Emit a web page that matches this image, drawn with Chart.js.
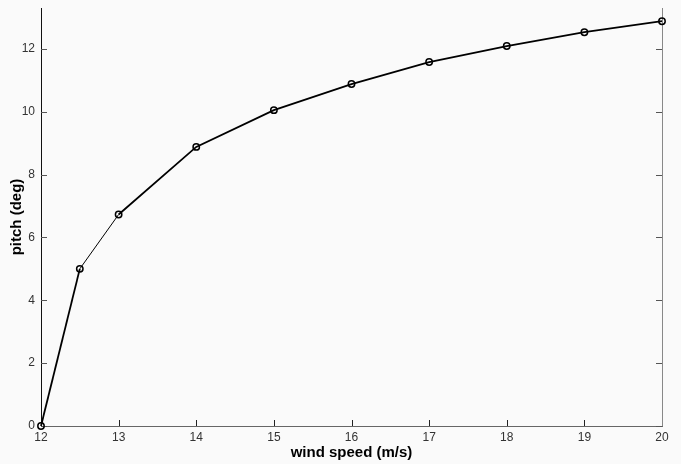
<!DOCTYPE html>
<html>
<head>
<meta charset="utf-8">
<script src="https://cdn.jsdelivr.net/npm/chart.js@4"></script>
<style>
  html, body { margin: 0; padding: 0; background: #fafafa; }
  #wrap { width: 681px; height: 464px; }
</style>
</head>
<body>
<div id="wrap"><canvas id="myChart" width="681" height="464"></canvas></div>
<script>
// wind speed (m/s) vs pitch (deg)
const windSpeed = [12, 12.5, 13, 14, 15, 16, 17, 18, 19, 20];
const pitch = [0, 5.0, 6.73, 8.88, 10.05, 10.88, 11.58, 12.09, 12.53, 12.88];
const xTicks = [12, 13, 14, 15, 16, 17, 18, 19, 20];
const yTicks = [0, 2, 4, 6, 8, 10, 12];

// matlab style: tick marks pointing into the plot, plus the right border
const inwardTicks = {
  id: 'inwardTicks',
  beforeDatasetsDraw(chart) {
    const { ctx, chartArea, scales } = chart;
    ctx.save();
    ctx.lineWidth = 1;
    ctx.strokeStyle = '#222';
    xTicks.forEach(v => {
      const x = Math.round(scales.x.getPixelForValue(v)) + 0.5;
      ctx.beginPath();
      ctx.moveTo(x, chartArea.bottom);
      ctx.lineTo(x, chartArea.bottom - 6);
      ctx.stroke();
    });
    ctx.strokeStyle = '#555';
    yTicks.forEach(v => {
      const y = Math.round(scales.y.getPixelForValue(v)) + 0.5;
      ctx.beginPath();
      ctx.moveTo(chartArea.left, y);
      ctx.lineTo(chartArea.left + 6, y);
      ctx.moveTo(chartArea.right, y);
      ctx.lineTo(chartArea.right - 6, y);
      ctx.stroke();
    });
    ctx.strokeStyle = '#888';
    ctx.beginPath();
    ctx.moveTo(chartArea.right + 0.5, chartArea.top);
    ctx.lineTo(chartArea.right + 0.5, chartArea.bottom);
    ctx.stroke();
    ctx.restore();
  }
};

const bgPlugin = {
  id: 'bg',
  beforeDraw(chart) {
    const ctx = chart.ctx;
    ctx.save();
    ctx.fillStyle = '#fafafa';
    ctx.fillRect(0, 0, chart.width, chart.height);
    ctx.restore();
  }
};

const ctx = document.getElementById('myChart').getContext('2d');
const myChart = new Chart(ctx, {
  type: 'line',
  data: {
    datasets: [{
      label: 'pitch',
      data: windSpeed.map((w, i) => ({ x: w, y: pitch[i] })),
      fill: false,
      clip: false,
      borderColor: '#000',
      backgroundColor: 'rgba(0,0,0,0)',
      borderWidth: 1.8,
      pointRadius: 3.2,
      pointBorderWidth: 1.5,
      pointBorderColor: '#000',
      pointBackgroundColor: 'rgba(0,0,0,0)',
      tension: 0,
      segment: {
        borderWidth: c => (c.p0DataIndex === 1 ? 1 : 1.8)
      }
    }]
  },
  options: {
    responsive: false,
    animation: false,
    layout: { padding: { top: 8, right: 19, left: 0, bottom: 0 } },
    scales: {
      x: {
        type: 'linear',
        min: 12,
        max: 20,
        afterBuildTicks: s => { s.ticks = xTicks.map(v => ({ value: v })); },
        afterFit: s => { s.height = 38; s.paddingLeft = 0; s.paddingRight = 0; },
        grid: { display: false, drawTicks: false },
        border: { display: true, color: '#666', width: 1 },
        ticks: {
          padding: 4,
          maxRotation: 0,
          font: { family: 'Arial, "Liberation Sans"', size: 12 },
          color: '#333'
        },
        title: {
          display: true,
          text: 'wind speed (m/s)',
          padding: { top: 0, bottom: 2 },
          font: { family: 'Arial, "Liberation Sans"', size: 15, weight: 'bold' },
          color: '#000'
        }
      },
      y: {
        type: 'linear',
        min: 0,
        max: 13.3,
        afterBuildTicks: s => { s.ticks = yTicks.map(v => ({ value: v })); },
        afterFit: s => { s.width = 41; s.paddingTop = 0; s.paddingBottom = 0; },
        grid: { display: false, drawTicks: false },
        border: { display: true, color: '#111', width: 1 },
        ticks: {
          padding: 6,
          font: { family: 'Arial, "Liberation Sans"', size: 12 },
          color: '#333'
        },
        title: {
          display: true,
          text: 'pitch (deg)',
          padding: { top: 8, bottom: 0 },
          font: { family: 'Arial, "Liberation Sans"', size: 15, weight: 'bold' },
          color: '#000'
        }
      }
    },
    plugins: {
      legend: { display: false },
      tooltip: { enabled: false }
    }
  },
  plugins: [bgPlugin, inwardTicks]
});
</script>
</body>
</html>
